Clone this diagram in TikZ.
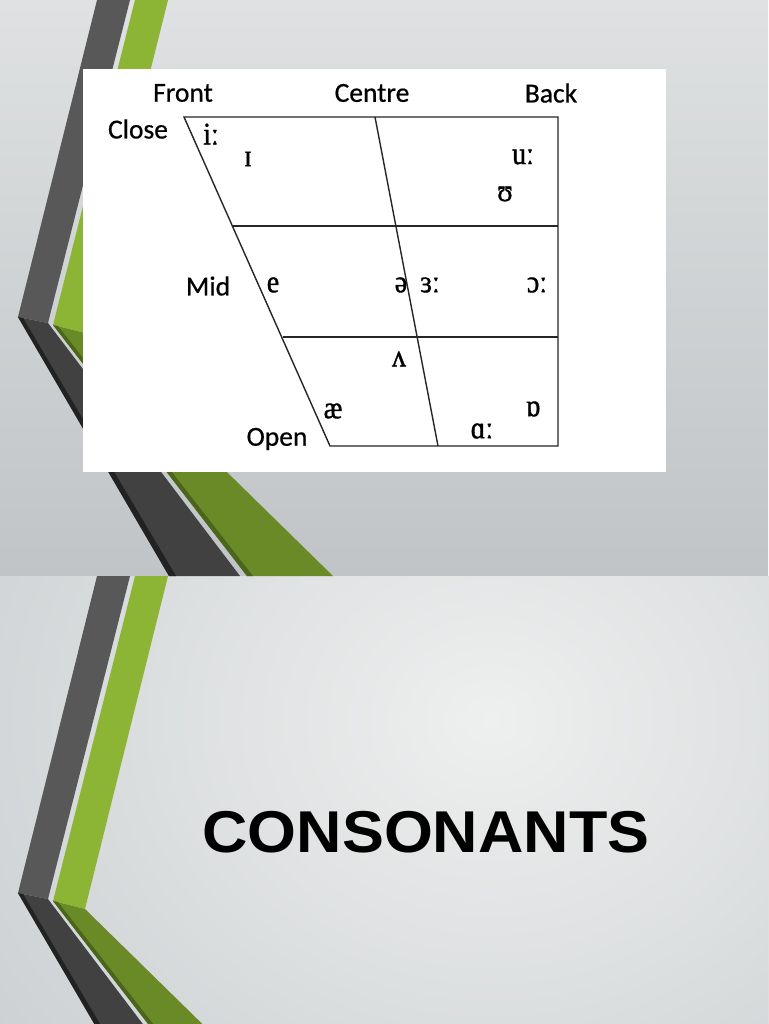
\documentclass[tikz,border=0pt]{standalone}
\usepackage{graphicx}
\usepackage{fontspec}
\setmainfont{Carlito}
\newfontfamily\lblfont{Carlito}[FakeBold=0.6]
\newfontfamily\ipafont{Liberation Serif}[FakeBold=1.2]
\newfontfamily\consfont{Liberation Sans}
\newcommand\ipatxt[1]{\scalebox{1}[1.12]{\ipafont\fontsize{28}{30}\selectfont #1}}
\definecolor{bgtop}{HTML}{DFE1E2}
\definecolor{bgbot}{HTML}{C0C4C6}
\definecolor{bginner}{HTML}{EEEFEF}
\definecolor{bgouter}{HTML}{CBCFD1}
\definecolor{darkup}{HTML}{585858}
\definecolor{darklow}{HTML}{414141}
\definecolor{darkedge}{HTML}{222222}
\definecolor{greenup}{HTML}{8CB535}
\definecolor{greenlow}{HTML}{6A8A28}
\definecolor{greenedge}{HTML}{4B661C}
\newcommand\slidedeco[1]{%
  \begin{scope}[shift={(0,#1)}]
    \fill[darkup] (97,0) -- (130,0) -- (48,323) -- (18,317) -- cycle;
    \fill[darklow] (18,317) -- (48,323) -- (240,576) -- (169,576) -- cycle;
    \fill[darkedge] (18,317) -- (23,318) -- (176,576) -- (169,576) -- cycle;
    \fill[greenup] (135,0) -- (168,0) -- (85,333) -- (53,325) -- cycle;
    \fill[greenlow] (53,325) -- (85,333) -- (333,576) -- (247,576) -- cycle;
    \fill[greenedge] (53,325) -- (58,326) -- (253,576) -- (247,576) -- cycle;
  \end{scope}}
\tikzset{
  lbl/.style={font=\lblfont\fontsize{27.5}{30}\selectfont, inner sep=0pt},
  ipa/.style={inner sep=0pt},
  chart/.style={line width=1.4pt, draw=black!85},
}
\begin{document}
\begin{tikzpicture}[x=1pt,y=-1pt]
\useasboundingbox (0,0) rectangle (768,1024);
\clip (0,0) rectangle (768,1024);
% backgrounds
\fill[top color=bgtop, bottom color=bgbot] (0,0) rectangle (768,576);
\begin{scope}
  \clip (0,576) rectangle (768,1024);
  \fill[inner color=bginner, outer color=bgouter] (-160,160) rectangle (1140,1280);
\end{scope}
\slidedeco{0}
\slidedeco{576}
% white picture box
\fill[white] (83,69) rectangle (666,472);
% chart coordinates
\coordinate (TL) at (184,117);
\coordinate (TR) at (558,117);
\coordinate (BL) at (330,446);
\coordinate (BR) at (558,446);
\coordinate (AL) at (232,226);
\coordinate (AR) at (558,226);
\coordinate (ML) at (283,337);
\coordinate (MR) at (558,337);
\coordinate (CT) at (375,117);
\coordinate (CB) at (438,446);
\draw[chart] (TL) -- (TR) -- (BR) -- (BL) -- cycle;
\draw[chart] (AL) -- (AR);
\draw[chart] (ML) -- (MR);
\draw[chart] (CT) -- (CB);
% labels
\node[lbl] (front) at (183,93) {Front};
\node[lbl] (centre) at (372,93) {Centre};
\node[lbl] (back) at (551,93) {Back};
\node[lbl] (close) at (138,129) {Close};
\node[lbl] (mid) at (208,286) {Mid};
\node[lbl] (open) at (277,439) {Open};
% vowels
\node[ipa] (ii) at (211,134) {\ipatxt{iː}};
\node[ipa] (ih) at (248,159) {\ipatxt{ɪ}};
\node[ipa] (uu) at (523,157) {\ipatxt{uː}};
\node[ipa] (uh) at (505,194) {\ipatxt{ʊ}};
\node[ipa] (ee) at (273,285) {\ipatxt{e}};
\node[ipa] (schwa) at (401,285) {\ipatxt{ə}};
\node[ipa] (er) at (430,285) {\ipatxt{ɜː}};
\node[ipa] (aw) at (537,285) {\ipatxt{ɔː}};
\node[ipa] (uhv) at (399,359) {\ipatxt{ʌ}};
\node[ipa] (ae) at (333,411) {\ipatxt{æ}};
\node[ipa] (oh) at (533,409) {\ipatxt{ɒ}};
\node[ipa] (aa) at (482,431) {\ipatxt{ɑː}};
% second slide title
\node[inner sep=0pt] (cons) at (426,832.5) {\scalebox{1.065}[1]{\consfont\bfseries\fontsize{59}{66}\selectfont CONSONANTS}};
\end{tikzpicture}
\end{document}
